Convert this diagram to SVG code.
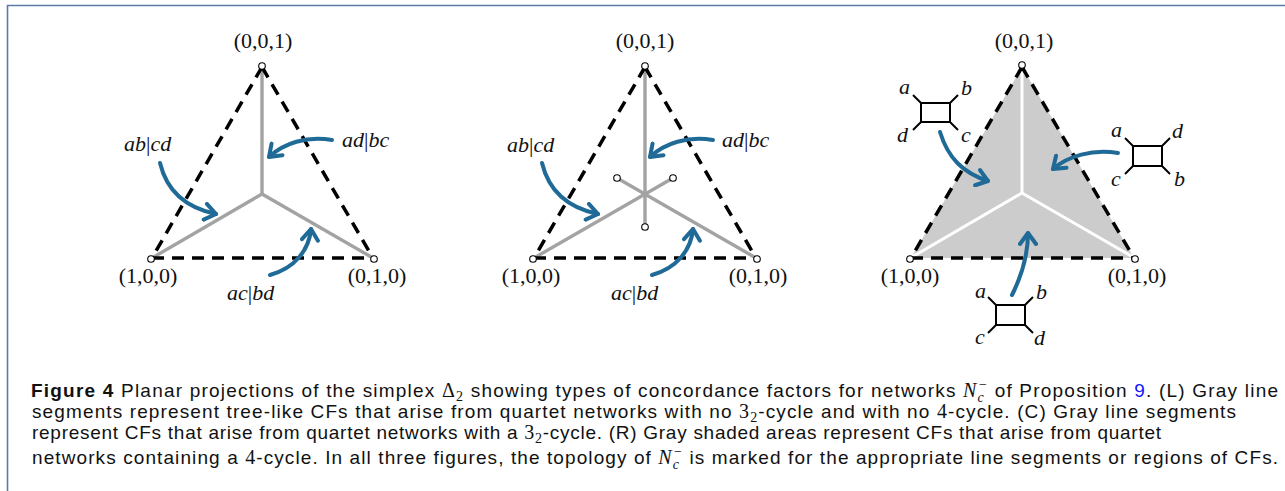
<svg xmlns="http://www.w3.org/2000/svg" width="1285" height="491" viewBox="0 0 1285 491">
<style>
  .dash { fill: none; stroke: #000; stroke-width: 3.5; stroke-dasharray: 12 8; }
  .seg { fill: none; stroke: #a3a3a3; stroke-width: 3.4; }
  .wseg { fill: none; stroke: #fff; stroke-width: 3; }
  .dot { fill: #fff; stroke: #000; stroke-width: 1.1; }
  .arr { fill: none; stroke: #1f6a96; stroke-width: 4; stroke-linecap: round; marker-end: url(#head); }
  .vl { font-family: "Liberation Serif", "Times New Roman", serif; font-size: 22px; fill: #111; text-anchor: middle; }
  .lab { font-family: "Liberation Serif", "Times New Roman", serif; font-size: 22px; font-style: italic; fill: #111; }
  .up { font-style: normal; }
  .sq { fill: #fff; stroke: #000; stroke-width: 2; }
  .leg { stroke: #000; stroke-width: 2; }
  .cap { font-family: "Liberation Sans", Arial, sans-serif; font-size: 19px; fill: #111; }
  .b { font-weight: bold; }
  .m { font-family: "Liberation Serif", "DejaVu Serif", serif; font-size: 20px; }
  .mi { font-family: "Liberation Serif", "DejaVu Serif", serif; font-size: 20px; font-style: italic; }
  .ms { font-family: "Liberation Serif", "DejaVu Serif", serif; font-size: 14px; }
  .msi { font-family: "Liberation Serif", "DejaVu Serif", serif; font-size: 14px; font-style: italic; }
  .link { fill: #1515ff; }
</style>
<defs>
  <marker id="head" viewBox="-14 -10 18 20" markerWidth="18" markerHeight="20" refX="0" refY="0" orient="auto" markerUnits="userSpaceOnUse">
    <path d="M-11,-8 L0,0 L-11,8" fill="none" stroke="#1f6a96" stroke-width="4" stroke-linecap="round" stroke-linejoin="round"/>
  </marker>
</defs>

<!-- frame -->
<g id="frame">
  <line x1="7" y1="5.5" x2="1285" y2="5.5" stroke="#5b7ba4" stroke-width="1.6"/>
  <line x1="7.5" y1="5" x2="7.5" y2="491" stroke="#5b7ba4" stroke-width="1.6"/>
</g>

<!-- LEFT panel -->
<g id="left-simplex">
  <line class="seg" x1="262" y1="194" x2="262" y2="67"/>
  <line class="seg" x1="262" y1="194" x2="152" y2="258"/>
  <line class="seg" x1="262" y1="194" x2="373" y2="258"/>
  <path class="dash" d="M262,67 L152,258 M262,67 L373,258 M152,258 L373,258"/>
  <circle class="dot" cx="262" cy="66" r="3.3"/>
  <circle class="dot" cx="151" cy="259" r="3.3"/>
  <circle class="dot" cx="374" cy="259" r="3.3"/>
  <text class="vl" x="263" y="48">(0,0,1)</text>
  <text class="vl" x="148" y="283">(1,0,0)</text>
  <text class="vl" x="377" y="283">(0,1,0)</text>
</g>
<g id="left-labels">
  <text class="lab" x="124" y="151">ab<tspan class="up">|</tspan>cd</text>
  <text class="lab" x="342" y="147">ad<tspan class="up">|</tspan>bc</text>
  <text class="lab" x="227" y="300">ac<tspan class="up">|</tspan>bd</text>
</g>

<!-- CENTER panel -->
<g id="center-simplex">
  <line class="seg" x1="645" y1="227" x2="645" y2="67"/>
  <line class="seg" x1="617" y1="178" x2="756" y2="258"/>
  <line class="seg" x1="673" y1="178" x2="534" y2="258"/>
  <path class="dash" d="M645,67 L534,258 M645,67 L756,258 M534,258 L756,258"/>
  <circle class="dot" cx="645" cy="66" r="3.3"/>
  <circle class="dot" cx="533" cy="259" r="3.3"/>
  <circle class="dot" cx="757" cy="259" r="3.3"/>
  <circle class="dot" cx="617" cy="178" r="3.3"/>
  <circle class="dot" cx="673" cy="178" r="3.3"/>
  <circle class="dot" cx="645" cy="227" r="3.3"/>
  <text class="vl" x="645" y="48">(0,0,1)</text>
  <text class="vl" x="531" y="283">(1,0,0)</text>
  <text class="vl" x="758" y="283">(0,1,0)</text>
</g>
<g id="center-labels">
  <text class="lab" x="507" y="152">ab<tspan class="up">|</tspan>cd</text>
  <text class="lab" x="722" y="147">ad<tspan class="up">|</tspan>bc</text>
  <text class="lab" x="611" y="300">ac<tspan class="up">|</tspan>bd</text>
</g>

<!-- RIGHT panel -->
<g id="right-simplex">
  <polygon points="1022,67 911,258 1134,258" fill="#cccccc"/>
  <line class="wseg" x1="1022" y1="193" x2="1022" y2="67"/>
  <line class="wseg" x1="1022" y1="193" x2="912" y2="257"/>
  <line class="wseg" x1="1022" y1="193" x2="1133" y2="257"/>
  <path class="dash" d="M1022,67 L911,258 M1022,67 L1134,258 M911,258 L1134,258"/>
  <circle class="dot" cx="1022" cy="65" r="3.3"/>
  <circle class="dot" cx="910" cy="259" r="3.3"/>
  <circle class="dot" cx="1135" cy="259" r="3.3"/>
  <text class="vl" x="1024" y="48">(0,0,1)</text>
  <text class="vl" x="910" y="283">(1,0,0)</text>
  <text class="vl" x="1137" y="283">(0,1,0)</text>
</g>
<g id="quartet-top-left">
  <line class="leg" x1="921" y1="103" x2="913" y2="95"/>
  <line class="leg" x1="950" y1="103" x2="958" y2="95"/>
  <line class="leg" x1="921" y1="122" x2="913" y2="130"/>
  <line class="leg" x1="950" y1="122" x2="958" y2="130"/>
  <rect class="sq" x="921" y="103" width="29" height="19"/>
  <text class="lab" x="899" y="94">a</text>
  <text class="lab" x="961" y="95">b</text>
  <text class="lab" x="897" y="142">d</text>
  <text class="lab" x="961" y="142">c</text>
</g>
<g id="quartet-right">
  <line class="leg" x1="1133" y1="146" x2="1125" y2="138"/>
  <line class="leg" x1="1162" y1="146" x2="1170" y2="138"/>
  <line class="leg" x1="1133" y1="166" x2="1125" y2="174"/>
  <line class="leg" x1="1162" y1="166" x2="1170" y2="174"/>
  <rect class="sq" x="1133" y="146" width="29" height="20"/>
  <text class="lab" x="1111" y="137">a</text>
  <text class="lab" x="1172" y="138">d</text>
  <text class="lab" x="1111" y="186">c</text>
  <text class="lab" x="1174" y="186">b</text>
</g>
<g id="quartet-bottom">
  <line class="leg" x1="996" y1="305" x2="988" y2="297"/>
  <line class="leg" x1="1025" y1="305" x2="1033" y2="297"/>
  <line class="leg" x1="996" y1="325" x2="988" y2="333"/>
  <line class="leg" x1="1025" y1="325" x2="1033" y2="333"/>
  <rect class="sq" x="996" y="305" width="29" height="20"/>
  <text class="lab" x="975" y="298">a</text>
  <text class="lab" x="1036" y="299">b</text>
  <text class="lab" x="975" y="344">c</text>
  <text class="lab" x="1034" y="345">d</text>
</g>

<!-- connectors -->
<g id="connectors">
  <path class="arr" d="M160,163 C167,192 187,208 216,214"/>
  <path class="arr" d="M332,140 C306,136 284,143 269,157"/>
  <path class="arr" d="M270,275 C295,268 309,250 311,229"/>
  <path class="arr" d="M542,163 C549,192 569,208 598,214"/>
  <path class="arr" d="M713,140 C687,136 665,143 650,157"/>
  <path class="arr" d="M652,275 C677,268 691,250 693,229"/>
  <path class="arr" d="M940,132 C948,158 963,173 988,181"/>
  <path class="arr" d="M1118,153 C1092,149 1068,156 1053,169"/>
  <path class="arr" d="M1012,295 C1022,275 1028,256 1028,233"/>
</g>

<!-- caption -->
<g id="caption">
  <text class="cap" x="31" y="397" textLength="1247" lengthAdjust="spacing"><tspan class="b">Figure 4</tspan>  Planar projections of the simplex <tspan class="m">Δ</tspan><tspan class="ms" dy="4">2</tspan><tspan dy="-4"> showing types of concordance factors for networks </tspan><tspan class="mi">N</tspan><tspan class="msi" dy="5">c</tspan><tspan class="ms" dx="-6" dy="-13">−</tspan><tspan dy="8">  of Proposition </tspan><tspan class="link">9</tspan>. (L) Gray line</text>
  <text class="cap" x="32" y="418" textLength="1204" lengthAdjust="spacing">segments represent tree-like CFs that arise from quartet networks with no <tspan class="m">3</tspan><tspan class="ms" dy="4">2</tspan><tspan dy="-4">-cycle and with no </tspan><tspan class="m">4</tspan>-cycle. (C) Gray line segments</text>
  <text class="cap" x="32" y="439" textLength="1129" lengthAdjust="spacing">represent CFs that arise from quartet networks with a <tspan class="m">3</tspan><tspan class="ms" dy="4">2</tspan><tspan dy="-4">-cycle. (R) Gray shaded areas represent CFs that arise from quartet</tspan></text>
  <text class="cap" x="32" y="464" textLength="1246" lengthAdjust="spacing">networks containing a <tspan class="m">4</tspan>-cycle. In all three figures, the topology of <tspan class="mi">N</tspan><tspan class="msi" dy="5">c</tspan><tspan class="ms" dx="-6" dy="-13">−</tspan><tspan dy="8">  is marked for the appropriate line segments or regions of CFs.</tspan></text>
</g>
</svg>
